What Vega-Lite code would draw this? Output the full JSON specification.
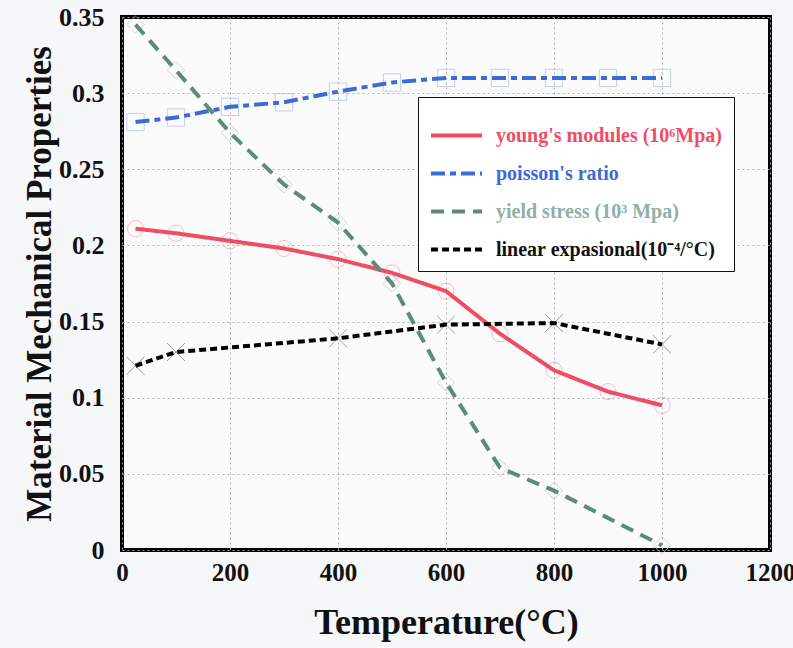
{
  "$schema": "https://vega.github.io/schema/vega-lite/v6.json",
  "width": 648,
  "height": 533,
  "autosize": "none",
  "padding": {"left": 122, "top": 17, "right": 23, "bottom": 98},
  "background": "#f6f7f9",
  "config": {
    "view": {"stroke": "black", "strokeWidth": 4, "fill": "#fbfbfc"},
    "axis": {
      "labelFont": "Liberation Serif",
      "labelFontWeight": "bold",
      "labelColor": "#111",
      "titleFont": "Liberation Serif",
      "titleFontWeight": "bold",
      "titleColor": "#111",
      "domain": false,
      "ticks": false,
      "gridColor": "#a8a8a8",
      "gridDash": [2, 3],
      "gridWidth": 0.9
    },
    "legend": {
      "orient": "none", "legendX": 296, "legendY": 80,
      "strokeColor": "#111", "fillColor": "#ffffff",
      "padding": 11, "rowPadding": -6,
      "symbolType": "stroke", "symbolSize": 2600, "symbolStrokeWidth": 4,
      "labelFont": "Liberation Serif", "labelFontWeight": "bold", "labelFontSize": 20,
      "labelLimit": 400, "labelOffset": 12
    }
  },
  "datasets": {
    "props": [
      {"T": 25, "v": 0.211, "s": "young's modules (10⁶Mpa)"},
      {"T": 100, "v": 0.208, "s": "young's modules (10⁶Mpa)"},
      {"T": 200, "v": 0.203, "s": "young's modules (10⁶Mpa)"},
      {"T": 300, "v": 0.198, "s": "young's modules (10⁶Mpa)"},
      {"T": 400, "v": 0.191, "s": "young's modules (10⁶Mpa)"},
      {"T": 500, "v": 0.182, "s": "young's modules (10⁶Mpa)"},
      {"T": 600, "v": 0.170, "s": "young's modules (10⁶Mpa)"},
      {"T": 700, "v": 0.142, "s": "young's modules (10⁶Mpa)"},
      {"T": 800, "v": 0.118, "s": "young's modules (10⁶Mpa)"},
      {"T": 900, "v": 0.104, "s": "young's modules (10⁶Mpa)"},
      {"T": 1000, "v": 0.095, "s": "young's modules (10⁶Mpa)"},

      {"T": 25, "v": 0.281, "s": "poisson's ratio"},
      {"T": 100, "v": 0.284, "s": "poisson's ratio"},
      {"T": 200, "v": 0.291, "s": "poisson's ratio"},
      {"T": 300, "v": 0.294, "s": "poisson's ratio"},
      {"T": 400, "v": 0.301, "s": "poisson's ratio"},
      {"T": 500, "v": 0.307, "s": "poisson's ratio"},
      {"T": 600, "v": 0.310, "s": "poisson's ratio"},
      {"T": 700, "v": 0.310, "s": "poisson's ratio"},
      {"T": 800, "v": 0.310, "s": "poisson's ratio"},
      {"T": 900, "v": 0.310, "s": "poisson's ratio"},
      {"T": 1000, "v": 0.310, "s": "poisson's ratio"},

      {"T": 25, "v": 0.345, "s": "yield stress (10³ Mpa)"},
      {"T": 100, "v": 0.315, "s": "yield stress (10³ Mpa)"},
      {"T": 200, "v": 0.274, "s": "yield stress (10³ Mpa)"},
      {"T": 300, "v": 0.240, "s": "yield stress (10³ Mpa)"},
      {"T": 400, "v": 0.215, "s": "yield stress (10³ Mpa)"},
      {"T": 500, "v": 0.175, "s": "yield stress (10³ Mpa)"},
      {"T": 600, "v": 0.110, "s": "yield stress (10³ Mpa)"},
      {"T": 700, "v": 0.054, "s": "yield stress (10³ Mpa)"},
      {"T": 800, "v": 0.039, "s": "yield stress (10³ Mpa)"},
      {"T": 1000, "v": 0.003, "s": "yield stress (10³ Mpa)"},

      {"T": 25, "v": 0.121, "s": "linear expasional(10⁻⁴/°C)"},
      {"T": 100, "v": 0.130, "s": "linear expasional(10⁻⁴/°C)"},
      {"T": 400, "v": 0.139, "s": "linear expasional(10⁻⁴/°C)"},
      {"T": 600, "v": 0.148, "s": "linear expasional(10⁻⁴/°C)"},
      {"T": 800, "v": 0.149, "s": "linear expasional(10⁻⁴/°C)"},
      {"T": 1000, "v": 0.135, "s": "linear expasional(10⁻⁴/°C)"}
    ]
  },
  "data": {"name": "props"},
  "encoding": {
    "x": {
      "field": "T", "type": "quantitative",
      "scale": {"domain": [0, 1200], "nice": false},
      "axis": {"values": [0, 200, 400, 600, 800, 1000, 1200], "format": "d", "title": "Temperature(°C)", "titleFontSize": 36, "titlePadding": 20, "labelFontSize": 25, "labelPadding": 10, "labelFlush": false}
    },
    "y": {
      "field": "v", "type": "quantitative",
      "scale": {"domain": [0, 0.35], "nice": false},
      "axis": {"values": [0, 0.05, 0.1, 0.15, 0.2, 0.25, 0.3, 0.35], "format": "~f", "title": "Material Mechanical Properties", "titleFontSize": 35, "titlePadding": 1, "labelFontSize": 26, "labelPadding": 18, "labelFlush": false}
    }
  },
  "layer": [
    {
      "transform": [{"filter": "datum.s === \"young's modules (10⁶Mpa)\""}],
      "mark": {"type": "point", "shape": "circle", "filled": false, "stroke": "#f2a2b0", "strokeWidth": 1, "size": 260}
    },
    {
      "transform": [{"filter": "datum.s === \"poisson's ratio\""}],
      "mark": {"type": "point", "shape": "square", "filled": false, "stroke": "#a8bde6", "strokeWidth": 1, "size": 300}
    },
    {
      "transform": [{"filter": "datum.s === 'yield stress (10³ Mpa)'"}],
      "mark": {"type": "point", "shape": "diamond", "filled": false, "stroke": "#b9c8c2", "strokeWidth": 1, "size": 300}
    },
    {
      "transform": [{"filter": "datum.s === 'linear expasional(10⁻⁴/°C)'"}],
      "mark": {"type": "point", "shape": "M-1,-1L1,1M-1,1L1,-1", "filled": false, "stroke": "#777777", "strokeWidth": 1, "size": 320}
    },
    {
      "mark": {"type": "line", "strokeWidth": 4},
      "encoding": {
        "color": {
          "field": "s", "type": "nominal", "title": null,
          "scale": {
            "domain": ["young's modules (10⁶Mpa)", "poisson's ratio", "yield stress (10³ Mpa)", "linear expasional(10⁻⁴/°C)"],
            "range": ["#ef4d66", "#3b6cd6", "#5e8a78", "#000000"]
          },
          "legend": {
            "encode": {"labels": {"update": {"fill": {"signal": "['#ef4d66','#3b6cd6','#8fb0a6','#111111'][datum.index]"}}}}
          }
        },
        "strokeDash": {
          "field": "s", "type": "nominal", "title": null,
          "scale": {
            "domain": ["young's modules (10⁶Mpa)", "poisson's ratio", "yield stress (10³ Mpa)", "linear expasional(10⁻⁴/°C)"],
            "range": [[1, 0], [14, 5, 6, 5], [13, 8], [7, 4]]
          }
        }
      }
    }
  ]
}
